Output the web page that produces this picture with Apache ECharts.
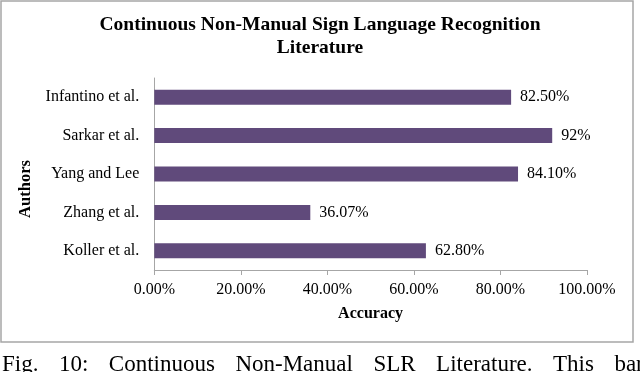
<!DOCTYPE html>
<html><head><meta charset="utf-8">
<script src="https://cdn.jsdelivr.net/npm/echarts@6/dist/echarts.min.js"></script>
<style>html,body{margin:0;padding:0;background:#fff}#c{width:640px;height:372px}</style>
</head><body><div id="c"></div>
<script>
const authors = ['Infantino et al.', 'Sarkar et al.', 'Yang and Lee', 'Zhang et al.', 'Koller et al.'];
const accuracy = [82.5, 92, 84.1, 36.07, 62.8];
const valueLabels = ['82.50%', '92%', '84.10%', '36.07%', '62.80%'];
const xMin = 0, xMax = 100, xStep = 20;
const titleText = 'Continuous Non-Manual Sign Language Recognition\nLiterature';
const xName = 'Accuracy';
const yName = 'Authors';
const captionWords = ['Fig.', '10:', 'Continuous', 'Non-Manual', 'SLR', 'Literature.', 'This', 'bar'];

const FONT = '"Liberation Serif", "Times New Roman", serif';

// caption words spread like a justified line
const CAP_FONT = '23px "Liberation Serif"';
const cv = document.createElement('canvas').getContext('2d');
cv.font = CAP_FONT;
const widths = captionWords.map(w => cv.measureText(w).width);
const firstSix = widths.slice(0, 6).reduce((a, b) => a + b, 0);
const gap = (553 - 2 - firstSix) / 6;
const capEls = [];
let cx = 2;
captionWords.forEach((w, i) => {
  capEls.push({type: 'text', x: cx, y: 365, silent: true,
    style: {text: w, font: CAP_FONT, fill: '#000', verticalAlign: 'middle', align: 'left'}});
  cx += widths[i] + gap;
});

const chart = echarts.init(document.getElementById('c'), null, {renderer: 'canvas'});
chart.setOption({
  animation: false,
  backgroundColor: '#fff',
  title: {
    text: titleText, left: 'center', top: 13, padding: 0,
    textStyle: {fontFamily: FONT, fontSize: 19.5, fontWeight: 'bold', color: '#000', lineHeight: 23.3}
  },
  grid: {left: 154.3, right: 53.2, top: 78, bottom: 102, containLabel: false},
  xAxis: {
    type: 'value', min: xMin, max: xMax, interval: xStep,
    name: xName, nameLocation: 'middle', nameGap: 36,
    nameTextStyle: {fontFamily: FONT, fontSize: 16, fontWeight: 'bold', color: '#000'},
    axisLine: {show: true, lineStyle: {color: '#A6A6A6', width: 1}},
    axisTick: {show: true, length: 5, lineStyle: {color: '#A6A6A6'}},
    splitLine: {show: false},
    axisLabel: {fontFamily: FONT, fontSize: 16, color: '#000', margin: 12,
      formatter: v => v.toFixed(2) + '%'}
  },
  yAxis: {
    type: 'category', data: authors, inverse: true,
    name: yName, nameLocation: 'middle', nameGap: 116, nameRotate: 90,
    nameTextStyle: {fontFamily: FONT, fontSize: 16.5, fontWeight: 'bold', color: '#000', padding: [0, 30, 0, 0]},
    axisLine: {show: true, lineStyle: {color: '#A6A6A6', width: 1}},
    axisTick: {show: false},
    axisLabel: {fontFamily: FONT, fontSize: 16, color: '#000', margin: 15}
  },
  series: [{
    type: 'bar', data: accuracy, barWidth: 15,
    itemStyle: {color: '#604A7B'},
    label: {show: true, position: 'right', distance: 9, fontFamily: FONT, fontSize: 16, color: '#000',
      formatter: p => valueLabels[p.dataIndex]}
  }],
  graphic: [
    {type: 'rect', silent: true, shape: {x: 1, y: 1, width: 632, height: 341},
      style: {fill: 'none', stroke: '#A6A6A6', lineWidth: 1.5}}
  ].concat(capEls)
});
</script></body></html>
